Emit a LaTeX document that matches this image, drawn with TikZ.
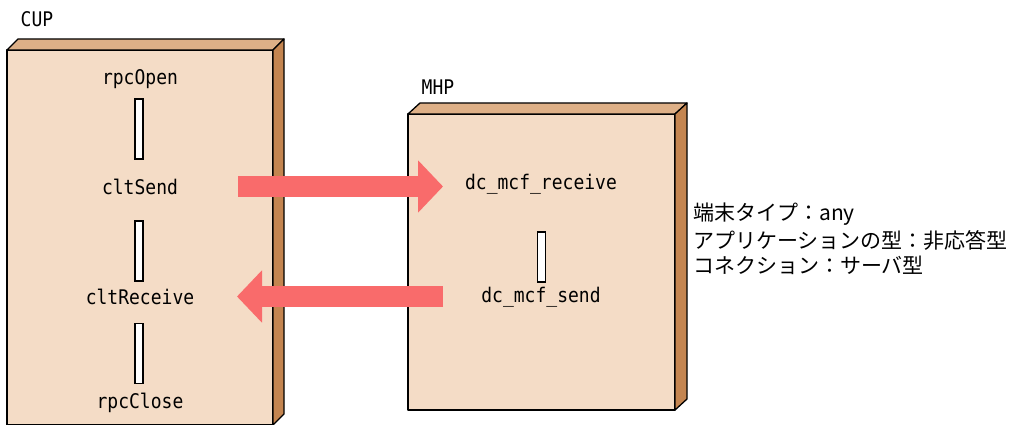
\documentclass[tikz,border=0pt]{standalone}
\usepackage{fontspec}
\usetikzlibrary{arrows.meta}
\newfontfamily\monof{DejaVu Sans Mono}
\newfontfamily\jpf{Noto Sans CJK JP}
\definecolor{frontc}{RGB}{244,220,198}
\definecolor{topc}{RGB}{222,176,135}
\definecolor{sidec}{RGB}{196,133,80}
\definecolor{arrc}{RGB}{249,107,107}
\tikzset{
  edge/.style={draw=black,line width=1.3pt,line join=round},
  lbl/.style={inner sep=0pt,font=\monof\fontsize{18}{20}\selectfont,yscale=1.12},
  jlbl/.style={inner sep=0pt,anchor=west,font=\jpf\fontsize{21}{24}\selectfont},
  bar/.style={draw=black,fill=white,line width=1.2pt,minimum width=8pt,minimum height=60pt,inner sep=0pt},
  bigarrow/.style={draw=arrc,line width=21pt,-{Triangle[length=25pt,width=51pt]}}
}
\begin{document}
\begin{tikzpicture}[x=1pt,y=-1pt]
\useasboundingbox (0,0) rectangle (1012,425);
% CUP slab
\filldraw[edge,fill=frontc] (7,50) rectangle (273,425);
\filldraw[edge,fill=topc] (7,50) -- (18,39) -- (284,39) -- (273,50) -- cycle;
\filldraw[edge,fill=sidec] (273,50) -- (284,39) -- (284,414) -- (273,425) -- cycle;
% MHP slab
\filldraw[edge,fill=frontc] (408,114) rectangle (675,410);
\filldraw[edge,fill=topc] (408,114) -- (420,103) -- (687,103) -- (675,114) -- cycle;
\filldraw[edge,fill=sidec] (675,114) -- (687,103) -- (687,399) -- (675,410) -- cycle;
% titles
\node[lbl] (cup) at (37,19) {CUP};
\node[lbl] (mhp) at (438,87) {MHP};
% CUP calls
\node[lbl] (open) at (140,79) {rpcOpen};
\node[bar] (b1) at (139,129) {};
\node[lbl] (send) at (140,187) {cltSend};
\node[bar] (b2) at (139,251) {};
\node[lbl] (recv) at (140,297) {cltReceive};
\node[bar] (b3) at (139,353.5) {};
\node[lbl] (close) at (140,403) {rpcClose};
% MHP calls
\node[lbl] (mrecv) at (541,184) {dc\_mcf\_receive};
\node[bar,minimum height=50pt] (b4) at (541.5,257) {};
\node[lbl] (msend) at (541,297) {dc\_mcf\_send};
% arrows
\coordinate (a1s) at (238,186.5);
\coordinate (a1e) at (443,186.5);
\coordinate (a2s) at (443,296.5);
\coordinate (a2e) at (237,296.5);
\draw[bigarrow] (a1s) -- (a1e);
\draw[bigarrow] (a2s) -- (a2e);
% notes
\node[jlbl] (n1) at (693,214) {端末タイプ：any};
\node[jlbl] (n2) at (693,240) {アプリケーションの型：非応答型};
\node[jlbl] (n3) at (693,265) {コネクション：サーバ型};
\end{tikzpicture}
\end{document}
